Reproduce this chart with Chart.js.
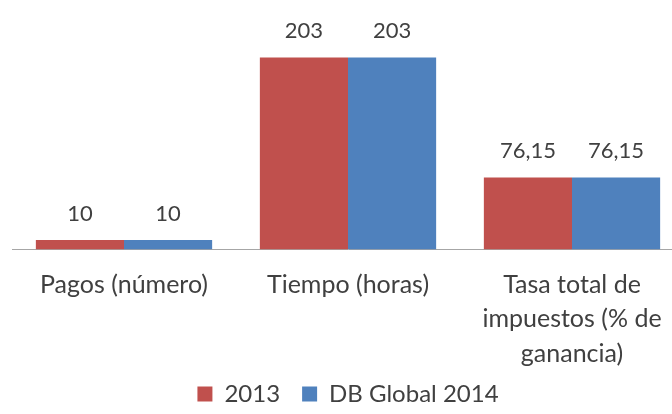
<!DOCTYPE html>
<html>
<head>
<meta charset="utf-8">
<script src="https://cdn.jsdelivr.net/npm/chart.js@4.4.1/dist/chart.umd.min.js"></script>
<style>
    html, body { margin: 0; padding: 0; background: #fff; overflow: hidden; }
    #wrap { position: relative; width: 696px; height: 414px; }
</style>
</head>
<body>
<div id="wrap"><canvas id="chart"></canvas></div>
<script>
// ===== DATA =====
const categories = [
    ["Pagos (número)"],
    ["Tiempo (horas)"],
    ["Tasa total de", "impuestos (% de", "ganancia)"]
];
const series2013 = [10, 203, 76.15];
const seriesDB2014 = [10, 203, 76.15];
const seriesNames = ["2013", "DB Global 2014"];

const RED = "#C0504D";
const BLUE = "#4F81BD";
const TEXT = "#404040";
const FONT = "Lato, 'Open Sans', sans-serif";

function fmt(v) {
    return String(v).replace(".", ",");
}

// draws the value above every bar
const valueLabels = {
    id: "valueLabels",
    afterDatasetsDraw(chart) {
        const ctx = chart.ctx;
        ctx.save();
        ctx.font = "22px " + FONT;
        ctx.fillStyle = TEXT;
        ctx.textAlign = "center";
        ctx.textBaseline = "alphabetic";
        chart.data.datasets.forEach((ds, i) => {
            chart.getDatasetMeta(i).data.forEach((bar, j) => {
                ctx.fillText(fmt(ds.data[j]), bar.x, bar.y - 19);
            });
        });
        ctx.restore();
    }
};

new Chart(document.getElementById("chart"), {
    type: "bar",
    data: {
        labels: categories,
        datasets: [
            { label: seriesNames[0], data: series2013, backgroundColor: RED },
            { label: seriesNames[1], data: seriesDB2014, backgroundColor: BLUE }
        ]
    },
    options: {
        responsive: true,
        maintainAspectRatio: false,
        animation: false,
        datasets: { bar: { categoryPercentage: 0.787, barPercentage: 1 } },
        layout: { padding: { left: 12, right: 12, top: 13, bottom: -2 } },
        plugins: {
            tooltip: { enabled: false },
            legend: {
                position: "bottom",
                labels: {
                    color: TEXT,
                    font: { family: FONT, size: 24 },
                    boxWidth: 15,
                    boxHeight: 15,
                    padding: 22
                }
            }
        },
        scales: {
            x: {
                grid: { display: false },
                border: { display: true, color: "#A6A6A6", width: 1 },
                ticks: {
                    color: TEXT,
                    font: { family: FONT, size: 25, lineHeight: 1.38 },
                    maxRotation: 0,
                    autoSkip: false,
                    padding: 10
                },
                // labels may run into the legend band, as in the original
                afterFit(scale) {
                    scale.height -= 21;
                    scale._computeLabelArea = () => undefined;
                }
            },
            y: {
                display: false,
                min: 0,
                max: 250
            }
        }
    },
    plugins: [valueLabels]
});
</script>
</body>
</html>
